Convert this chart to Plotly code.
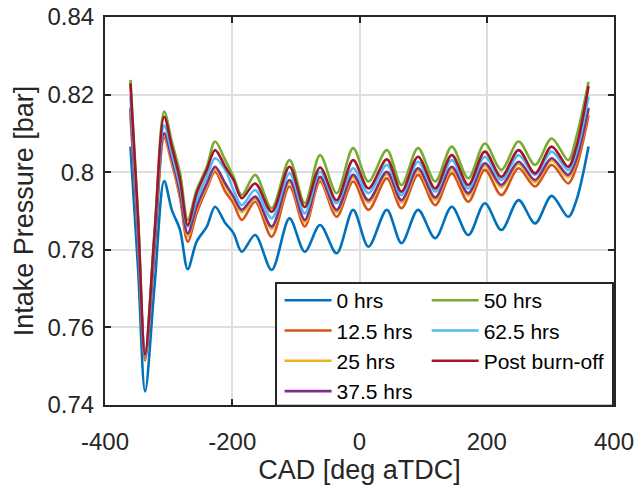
import plotly.graph_objects as go

# Crank angle key points [deg aTDC]
cad = [-360, -348, -337, -322, -307, -295, -282, -270, -256, -240, -227, -211, -198,
       -185, -164, -138, -110, -86, -62, -36, -10, 14, 43, 66, 92, 119, 145, 171, 197,
       223, 250, 276, 302, 328, 341, 360]

p_0hrs = [0.8066, 0.7750, 0.7435, 0.7710, 0.7977, 0.7903, 0.7851, 0.7750, 0.7821, 0.7860,
          0.7911, 0.7869, 0.7843, 0.7795, 0.7838, 0.7748, 0.7881, 0.7795, 0.7864, 0.7791,
          0.7903, 0.7808, 0.7903, 0.7817, 0.7903, 0.7830, 0.7911, 0.7838, 0.7920, 0.7851,
          0.7928, 0.7868, 0.7939, 0.7885, 0.7928, 0.8066]

p_12_5hrs = [0.8147, 0.7830, 0.7515, 0.7800, 0.8088, 0.8023, 0.7933, 0.7821, 0.7894, 0.7958,
             0.8001, 0.7950, 0.7920, 0.7877, 0.7924, 0.7834, 0.7963, 0.7860, 0.7976, 0.7885,
             0.7976, 0.7903, 0.7984, 0.7907, 0.7993, 0.7915, 0.7997, 0.7924, 0.8006, 0.7941,
             0.8010, 0.7963, 0.8019, 0.7971, 0.8014, 0.8147]

p_25hrs = [0.8160, 0.7838, 0.7520, 0.7808, 0.8095, 0.8030, 0.7940, 0.7836, 0.7905, 0.7965,
           0.8008, 0.7965, 0.7931, 0.7897, 0.7931, 0.7854, 0.7974, 0.7871, 0.7982, 0.7897,
           0.7987, 0.7922, 0.7995, 0.7922, 0.8004, 0.7929, 0.8008, 0.7940, 0.8017, 0.7961,
           0.8021, 0.7974, 0.8030, 0.7987, 0.8028, 0.8160]

p_37_5hrs = [0.8166, 0.7842, 0.7523, 0.7812, 0.8100, 0.8036, 0.7946, 0.7842, 0.7911, 0.7971,
             0.8014, 0.7971, 0.7937, 0.7903, 0.7937, 0.7860, 0.7980, 0.7877, 0.7988, 0.7903,
             0.7993, 0.7928, 0.8001, 0.7928, 0.8010, 0.7935, 0.8014, 0.7946, 0.8023, 0.7967,
             0.8027, 0.7980, 0.8036, 0.7993, 0.8034, 0.8166]

p_50hrs = [0.8238, 0.7885, 0.7530, 0.7848, 0.8156, 0.8079, 0.7997, 0.7877, 0.7954, 0.8014,
           0.8079, 0.8031, 0.7988, 0.7941, 0.7993, 0.7907, 0.8031, 0.7920, 0.8044, 0.7946,
           0.8062, 0.7976, 0.8057, 0.7967, 0.8062, 0.7976, 0.8066, 0.7984, 0.8074, 0.8006,
           0.8079, 0.8019, 0.8087, 0.8031, 0.8092, 0.8233]

p_62_5hrs = [0.8195, 0.7860, 0.7525, 0.7830, 0.8120, 0.8049, 0.7963, 0.7860, 0.7928, 0.7988,
             0.8036, 0.8006, 0.7954, 0.7915, 0.7954, 0.7881, 0.7997, 0.7894, 0.8001, 0.7920,
             0.8010, 0.7946, 0.8019, 0.7941, 0.8027, 0.7950, 0.8031, 0.7958, 0.8040, 0.7980,
             0.8044, 0.7993, 0.8053, 0.8006, 0.8052, 0.8195]

p_post = [0.8229, 0.7880, 0.7530, 0.7845, 0.8143, 0.8066, 0.7980, 0.7864, 0.7946, 0.8006,
          0.8057, 0.8014, 0.7980, 0.7933, 0.7971, 0.7898, 0.8014, 0.7910, 0.8012, 0.7928,
          0.8031, 0.7958, 0.8033, 0.7950, 0.8040, 0.7958, 0.8044, 0.7967, 0.8053, 0.7988,
          0.8057, 0.7997, 0.8066, 0.8014, 0.8066, 0.8222]

series_names = ["0 hrs", "12.5 hrs", "25 hrs", "37.5 hrs", "50 hrs", "62.5 hrs", "Post burn-off"]
series_values = [p_0hrs, p_12_5hrs, p_25hrs, p_37_5hrs, p_50hrs, p_62_5hrs, p_post]
colors = ["#0072BD", "#D95319", "#EDB120", "#7E2F8E", "#77AC30", "#4DBEEE", "#A2142F"]
legend_column = ["legend", "legend", "legend", "legend", "legend2", "legend2", "legend2"]

x_ticks = [-400, -200, 0, 200, 400]
y_ticks = [0.74, 0.76, 0.78, 0.80, 0.82, 0.84]
y_tick_labels = ["0.74", "0.76", "0.78", "0.8", "0.82", "0.84"]

FONT = "Liberation Sans, Arial, sans-serif"
DARK = "#262626"

fig = go.Figure()
for name, vals, col, leg in zip(series_names, series_values, colors, legend_column):
    fig.add_trace(go.Scatter(
        x=cad, y=vals, mode="lines", name=name, legend=leg,
        line=dict(color=col, width=2.6, shape="spline", smoothing=0.9),
    ))

axis_common = dict(
    showline=True, linewidth=2, linecolor=DARK, mirror="ticks",
    ticks="inside", ticklen=6, tickwidth=1.5, tickcolor=DARK,
    showgrid=True, gridcolor="#dedede", gridwidth=2,
    zeroline=False, automargin=False,
    tickfont=dict(family=FONT, size=24, color=DARK),
)

fig.update_xaxes(
    range=[-400, 400], tickvals=x_ticks, ticktext=[str(v) for v in x_ticks],
    title=dict(text="CAD [deg aTDC]", font=dict(family=FONT, size=27, color=DARK), standoff=10),
    ticklabelstandoff=14,
    **axis_common,
)
fig.update_yaxes(
    range=[0.74, 0.84], tickvals=y_ticks, ticktext=y_tick_labels,
    title=dict(text="Intake Pressure [bar]", font=dict(family=FONT, size=27, color=DARK), standoff=6),
    ticklabelstandoff=4,
    **axis_common,
)

# legend frame (plot-area fraction coordinates)
fig.add_shape(type="rect", xref="paper", yref="paper",
              x0=0.336, x1=0.998, y0=-0.002, y1=0.3144,
              line=dict(color=DARK, width=2), fillcolor="white", layer="above")

legend_style = dict(
    orientation="v", yanchor="top", xanchor="left",
    bgcolor="rgba(0,0,0,0)", borderwidth=0,
    font=dict(family=FONT, size=21, color="black"),
    traceorder="normal", tracegroupgap=0, itemwidth=47,
)

fig.update_layout(
    width=636, height=485,
    margin=dict(l=105, r=22, t=17, b=80, autoexpand=False),
    paper_bgcolor="white", plot_bgcolor="white",
    font=dict(family=FONT, color=DARK),
    legend=dict(x=0.343, y=0.322, **legend_style),
    legend2=dict(x=0.632, y=0.322, **legend_style),
    showlegend=True,
)

fig.write_html("out.html")
